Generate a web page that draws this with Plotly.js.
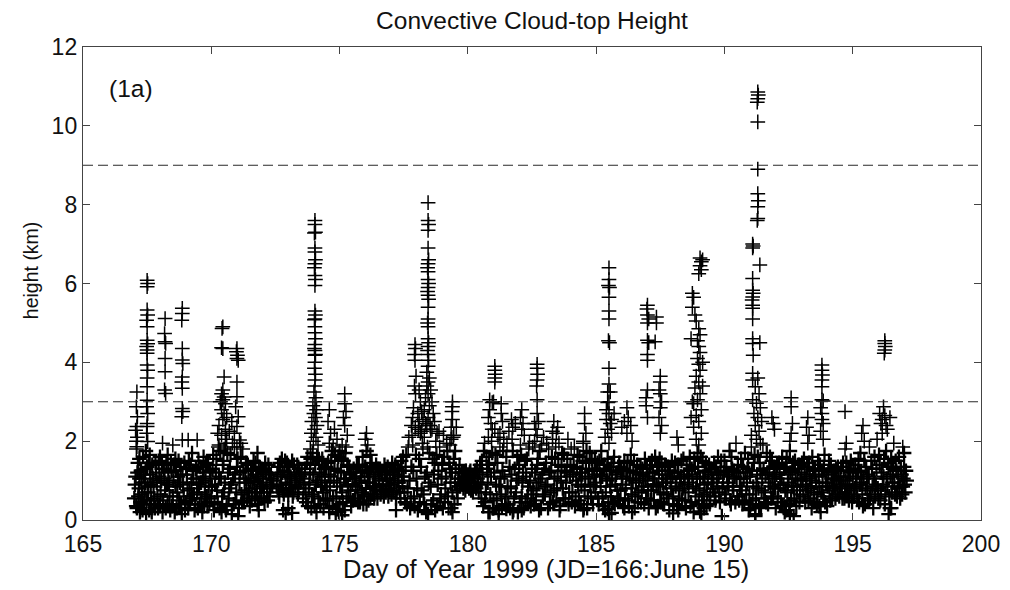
<!DOCTYPE html>
<html>
<head>
<meta charset="utf-8">
<script src="https://cdn.plot.ly/plotly-3.0.1.min.js"></script>
<style>
  html, body { margin: 0; padding: 0; background: #ffffff; }
  #chart { width: 1010px; height: 590px; }
</style>
</head>
<body>
<div id="chart"></div>
<script>
// Convective cloud-top heights, [day of year 1999, height in km]
const obs167to170 = [
  [167.00,0.55],[167.05,1.10],[167.10,0.30],[167.14,1.45],[167.18,0.80],[167.22,0.20],[167.26,1.25],[167.30,0.65],
  [167.34,1.60],[167.38,0.40],[167.42,0.95],[167.46,0.15],[167.50,1.35],[167.54,0.70],[167.58,0.25],[167.62,1.15],
  [167.66,0.50],[167.70,1.40],[167.75,0.85],[167.80,0.30],[167.85,1.20],[167.90,0.60],[167.95,1.50],[168.00,0.35],
  [168.05,1.00],[168.10,0.20],[168.15,1.30],[168.20,0.75],[168.25,1.45],[168.30,0.40],[168.35,0.95],[168.40,0.25],
  [168.45,1.25],[168.50,0.60],[168.55,1.40],[168.60,0.85],[168.65,0.30],[168.70,1.10],[168.75,0.50],[168.80,1.35],
  [168.85,0.15],[168.90,0.90],[168.95,1.45],[169.00,0.45],[169.05,1.15],[169.10,0.30],[169.15,0.80],[169.20,1.40],
  [169.25,0.55],[169.30,1.05],[169.35,0.25],[169.40,1.30],[169.45,0.70],[169.50,1.50],[169.55,0.40],[169.60,0.95],
  [169.65,0.20],[169.70,1.20],[169.75,0.65],[169.80,1.45],[169.85,0.35],[169.90,0.85],[169.95,1.25],
  [167.08,1.80],[167.20,1.55],[167.45,1.75],[167.60,1.65],[168.00,1.60],[168.30,1.65],[168.60,1.55],[168.50,1.90],
  [168.10,1.95],[169.10,2.03],[169.45,2.03],[169.70,1.60],[169.25,1.70],
  // towers on days 167-169
  [167.10,3.25],[167.08,2.87],[167.12,2.62],[167.10,2.37],[167.05,2.28],[167.12,2.10],[167.08,2.00],[167.10,1.86],
  [167.50,6.08],[167.52,6.00],[167.50,5.92],[167.50,5.33],[167.52,5.20],[167.48,5.07],[167.50,4.90],[167.50,4.56],
  [167.52,4.47],[167.48,4.40],[167.50,4.31],[167.50,4.23],[167.50,3.93],[167.52,3.80],[167.50,3.60],[167.50,3.38],
  [167.50,3.04],[167.48,2.87],[167.52,2.70],[167.50,2.45],[167.50,2.37],[167.48,2.20],[167.52,1.99],
  [168.20,5.11],[168.18,4.73],[168.20,4.52],[168.22,4.48],[168.20,4.10],[168.20,3.76],[168.18,3.30],[168.22,3.21],
  [168.87,5.37],[168.87,5.24],[168.85,5.07],[168.87,4.35],[168.87,4.06],[168.89,3.97],[168.87,3.63],[168.85,3.50],
  [168.87,3.34],[168.87,2.83],[168.89,2.75],[168.85,2.62],[168.87,2.03]
];

const obs170to174 = [
  [170.00,0.55],[170.05,1.30],[170.10,0.25],[170.15,0.90],[170.20,1.55],[170.25,0.40],[170.30,1.10],[170.35,1.75],
  [170.40,0.20],[170.45,1.40],[170.50,0.70],[170.55,1.95],[170.60,0.35],[170.65,1.20],[170.70,0.80],[170.75,1.65],
  [170.80,0.15],[170.85,1.05],[170.90,1.85],[170.95,0.50],[171.00,1.35],[171.05,0.10],[171.10,0.95],[171.15,1.60],
  [171.20,0.45],[171.25,1.25],[171.30,0.75],[171.35,1.45],[171.40,0.55],[171.45,1.05],[171.50,0.35],[171.55,1.30],
  [171.60,0.80],[171.65,1.50],[171.70,0.60],[171.75,1.15],[171.80,0.40],[171.85,1.35],[171.90,0.90],[171.95,0.55],
  [172.00,1.25],[172.05,0.70],[172.10,1.45],[172.15,0.95],[172.20,0.50],[172.25,1.20],[172.30,0.80],[172.35,1.05],
  [172.55,0.85],[172.60,1.35],[172.65,0.60],[172.70,1.10],[172.75,1.55],[172.80,0.75],[172.85,1.25],[172.90,0.95],
  [172.95,1.45],[173.00,0.65],[173.05,1.15],[173.10,0.90],[173.15,1.50],[173.20,0.70],[173.25,1.20],[173.30,1.00],
  [173.35,1.40],[173.40,0.80],[173.45,1.10],
  [172.80,0.25],[173.00,0.30],[173.15,0.18],[172.90,0.15],[171.80,1.70],[171.85,0.25],
  // towers on days 170-171
  [170.45,4.90],[170.42,4.86],[170.45,4.35],[170.40,4.37],[170.50,3.63],[170.45,3.30],[170.40,3.20],[170.50,3.12],
  [170.45,3.05],[170.35,3.00],[170.55,2.95],[170.40,2.80],[170.50,2.70],[170.45,2.55],[170.30,2.40],[170.55,2.30],
  [170.40,2.15],[170.60,2.05],[170.30,1.90],[170.50,1.80],[170.25,2.20],[170.60,2.60],
  [171.00,4.35],[170.98,4.27],[171.02,4.18],[171.00,4.10],[171.05,4.05],[171.00,3.50],[171.00,3.13],[170.95,2.87],
  [171.05,2.62],[171.00,2.37],[170.90,2.20],[171.10,2.03],[171.00,1.85],[171.15,1.95],[170.80,2.50],[170.70,2.25]
];

const obs174to178 = [
  [173.60,0.90],[173.65,1.30],[173.70,0.45],[173.75,1.60],[173.80,0.80],[173.85,1.20],[173.90,0.30],[173.95,1.70],
  [174.00,0.60],[174.05,1.40],[174.10,0.20],[174.15,1.00],[174.20,1.50],[174.25,0.40],[174.30,1.10],[174.35,0.70],
  [174.40,1.30],[174.45,0.50],
  // tower on day 174
  [174.04,7.60],[174.04,7.50],[174.06,7.30],[174.02,7.28],[174.04,6.90],[174.04,6.80],[174.06,6.60],[174.04,6.50],
  [174.02,6.40],[174.04,6.20],[174.06,6.10],[174.04,5.95],[174.04,5.30],[174.06,5.20],[174.04,5.10],[174.02,5.08],
  [174.04,4.90],[174.04,4.75],[174.06,4.60],[174.04,4.45],[174.02,4.35],[174.04,4.30],[174.06,4.20],[174.04,4.18],
  [174.04,4.00],[174.02,3.85],[174.06,3.70],[174.04,3.55],[174.04,3.40],[174.00,3.25],[174.08,3.10],[174.04,3.00],
  [173.96,2.90],[174.10,2.80],[174.00,2.70],[174.06,2.60],[173.92,2.50],[174.12,2.40],[174.02,2.30],[173.90,2.20],
  [174.08,2.10],[173.98,2.00],[174.16,1.90],[173.86,1.80],
  [174.50,0.85],[174.55,1.45],[174.60,0.30],[174.65,1.10],[174.70,1.75],[174.75,0.55],[174.80,1.30],[174.85,0.15],
  [174.90,0.95],[174.95,1.60],[175.00,0.40],[175.05,1.20],[175.10,0.70],[175.15,1.50],[175.20,0.25],[175.25,1.05],
  [175.30,1.40],[175.35,0.60],[175.40,1.15],[175.45,0.35],[175.50,0.90],[175.55,1.30],[175.60,0.55],[175.65,1.10],
  [175.70,0.75],[175.75,1.40],[175.80,0.45],[175.85,1.00],[175.90,1.25],[175.95,0.65],[176.00,1.35],[176.05,0.40],
  [176.10,0.95],[176.15,1.20],[176.20,0.60],[176.25,1.45],[176.30,0.85],[176.35,0.55],[176.40,1.10],[176.45,0.75],
  [176.50,1.30],[176.55,0.90],[176.60,0.65],[176.65,1.20],[176.70,0.85],[176.75,1.40],[176.80,0.70],[176.85,1.05],
  [176.90,0.60],[176.95,1.25],[177.00,0.90],[177.05,1.45],[177.10,0.75],[177.15,1.15],[177.20,0.55],[177.25,1.30],
  [177.30,0.95],[177.35,0.70],[177.40,1.50],[177.45,0.85],
  [174.60,2.80],[174.55,2.50],[174.65,2.20],[174.60,1.95],[175.20,3.20],[175.20,2.95],[175.25,2.75],[175.15,2.60],
  [175.20,2.40],[175.30,2.15],[175.10,1.90],[175.25,1.85],[174.80,2.30],[174.90,2.05],[174.75,1.85],[175.00,1.75],
  [174.60,0.20],[174.90,0.28],[175.10,0.12],
  [176.05,2.20],[176.00,2.05],[176.10,1.90],[176.05,1.75],[175.90,1.60],[176.20,1.65],[177.20,0.25]
];

const obs178to180 = [
  [177.50,1.10],[177.55,0.45],[177.60,1.65],[177.65,0.80],[177.70,2.10],[177.75,0.30],[177.80,1.35],[177.85,1.90],
  [177.90,0.60],[177.95,2.35],[178.00,1.05],[178.05,0.25],[178.10,1.55],[178.15,2.20],[178.20,0.75],[178.25,1.80],
  [178.30,0.40],[178.35,2.45],[178.40,1.20],[178.45,0.15],[178.50,1.70],[178.55,0.85],[178.60,2.30],[178.65,0.50],
  [178.70,1.45],[178.75,2.00],[178.80,0.35],[178.85,1.25],[178.90,1.85],[178.95,0.65],[179.00,1.40],[179.05,2.15],
  [179.10,0.45],[179.15,1.10],[179.20,1.75],[179.25,0.30],[179.30,1.30],[179.35,2.05],[179.40,0.70],[179.45,1.55],
  [179.50,0.95],[179.55,2.35],[179.60,0.55],[179.65,1.20],[179.70,0.85],[179.75,1.05],[179.80,0.90],[179.85,1.20],
  [179.90,0.75],[179.95,1.00],[180.00,1.15],[180.05,0.80],[180.10,1.25],[180.15,0.95],[180.20,0.70],[180.25,1.10],
  [180.30,0.85],[180.35,1.30],[180.40,0.95],[180.45,1.20],
  // towers on days 178-179
  [177.94,4.45],[177.96,4.35],[177.92,4.20],[177.94,4.05],[177.98,3.65],[177.92,3.40],[177.96,3.20],[178.10,3.30],
  [178.15,3.00],[178.20,2.75],[177.88,2.85],[178.05,2.70],[177.85,2.60],[178.10,2.50],[177.80,2.40],[178.20,2.25],
  [178.45,8.05],[178.45,7.60],[178.47,7.50],[178.45,7.35],[178.45,6.90],[178.47,6.60],[178.45,6.50],[178.43,6.40],
  [178.45,6.30],[178.45,6.10],[178.47,6.00],[178.45,5.90],[178.43,5.80],[178.45,5.70],[178.47,5.60],[178.45,5.40],
  [178.45,5.10],[178.43,5.00],[178.45,4.90],[178.45,4.60],[178.47,4.50],[178.45,4.40],[178.43,4.30],[178.45,4.20],
  [178.47,4.05],[178.45,3.90],[178.40,3.75],[178.50,3.60],[178.45,3.50],[178.40,3.40],[178.55,3.30],[178.45,3.20],
  [178.35,3.10],[178.60,3.00],[178.50,2.90],[178.30,2.80],[178.65,2.70],[178.45,2.60],[178.25,2.55],[178.70,2.50],
  [178.40,2.40],[178.55,2.30],[178.80,2.20],[178.30,2.10],
  [179.40,3.00],[179.40,2.87],[179.38,2.75],[179.40,2.55],[179.35,2.35],[179.45,2.15],[179.30,1.90],[179.50,1.75],
  [179.35,0.30],[179.40,0.20]
];

const obs181to185 = [
  [180.50,0.90],[180.55,1.50],[180.60,0.35],[180.65,1.95],[180.70,0.70],[180.75,1.30],[180.80,2.10],[180.85,0.20],
  [180.90,1.10],[180.95,1.70],[181.00,0.50],[181.05,2.30],[181.10,0.90],[181.15,1.45],[181.20,0.25],[181.25,1.85],
  [181.30,0.65],[181.35,1.25],[181.40,2.05],[181.45,0.40],[181.50,1.60],[181.55,0.85],[181.60,2.25],[181.65,0.30],
  [181.70,1.15],[181.75,1.75],[181.80,0.55],[181.85,2.45],[181.90,1.00],[181.95,0.20],[182.00,1.40],[182.05,1.90],
  [182.10,0.60],[182.15,1.20],[182.20,2.15],[182.25,0.45],[182.30,1.55],[182.35,0.85],[182.40,1.95],[182.45,0.35],
  [182.50,1.30],[182.55,0.75],[182.60,2.00],[182.65,0.50],[182.70,1.40],[182.75,0.95],[182.80,1.75],[182.85,0.30],
  [182.90,1.15],[182.95,2.10],[183.00,0.65],[183.05,1.45],[183.10,0.90],[183.15,1.80],[183.20,0.40],[183.25,1.25],
  [183.30,2.25],[183.35,0.75],[183.40,1.55],[183.45,0.50],[183.50,1.10],[183.55,1.95],[183.60,0.35],[183.65,1.35],
  [183.70,0.80],[183.75,1.65],[183.80,0.55],[183.85,1.20],[183.90,2.05],[183.95,0.70],[184.00,1.40],[184.05,0.45],
  [184.10,1.15],[184.15,1.85],[184.20,0.60],[184.25,1.30],[184.30,0.90],[184.35,1.60],[184.40,0.40],[184.45,1.20],
  [184.50,2.00],[184.55,0.75],[184.60,1.45],[184.65,0.30],[184.70,1.05],[184.75,1.70],[184.80,0.55],[184.85,1.25],
  [184.90,0.85],[184.95,1.50],
  // towers on days 181-184
  [181.05,3.90],[181.05,3.80],[181.07,3.70],[181.05,3.60],[181.05,3.50],[180.85,3.05],[181.00,3.00],[180.95,2.98],
  [180.85,2.80],[180.80,2.60],[180.90,2.45],[180.95,2.30],[181.30,2.95],[181.30,2.70],[181.35,2.50],[181.25,2.20],
  [181.70,2.55],[181.75,2.35],[182.10,2.80],[182.05,2.60],[182.15,2.45],[182.10,2.30],
  [182.70,3.95],[182.70,3.85],[182.72,3.70],[182.70,3.55],[182.68,3.40],[182.70,3.05],[182.70,2.70],[182.75,2.50],
  [182.65,2.30],[182.70,2.15],[182.60,2.45],
  [183.35,2.50],[183.50,2.35],[183.45,2.20],[183.30,2.05],[184.55,2.70],[184.55,2.45],[184.60,2.20],[184.50,1.95],
  [184.50,0.25],[180.80,0.20],[181.00,0.30],[181.20,0.15],[181.50,0.28],[181.75,0.20],[182.10,0.25]
];

const obs185to190 = [
  [185.00,0.95],[185.05,1.45],[185.10,0.40],[185.15,1.15],[185.20,1.75],[185.25,0.60],[185.30,1.30],[185.35,0.25],
  [185.40,1.05],[185.45,1.55],[185.50,0.15],[185.55,0.85],[185.60,1.35],[185.65,0.45],[185.70,1.60],[185.75,0.90],
  [185.80,1.20],[185.85,0.55],[185.90,1.45],[185.95,0.75],[186.00,1.10],[186.05,0.35],[186.10,1.50],[186.15,0.80],
  [186.20,1.25],[186.25,0.50],[186.30,1.05],[186.35,1.65],[186.40,0.65],[186.45,1.20],[186.50,0.30],[186.55,0.95],
  [186.60,1.40],[186.65,0.70],[186.70,1.15],[186.75,0.45],[186.80,1.30],[186.85,0.85],[186.90,1.55],[186.95,0.55],
  [187.00,1.10],[187.05,0.30],[187.10,1.40],[187.15,0.75],[187.20,1.20],[187.25,0.50],[187.30,1.60],[187.35,0.90],
  [187.40,0.35],[187.45,1.25],[187.50,0.70],[187.55,1.45],[187.60,0.95],[187.65,0.40],[187.70,1.15],[187.75,0.65],
  [187.80,1.35],[187.85,0.25],[187.90,1.05],[187.95,1.50],[188.00,0.60],[188.05,1.20],[188.10,0.85],[188.15,0.35],
  [188.20,1.40],[188.25,0.75],[188.30,1.10],[188.35,0.50],[188.40,1.55],[188.45,0.90],[188.50,0.30],[188.55,1.25],
  [188.60,0.70],[188.65,1.60],[188.70,0.45],[188.75,1.15],[188.80,0.20],[188.85,1.35],[188.90,0.80],[188.95,1.70],
  [189.00,0.40],[189.05,1.05],[189.10,0.15],[189.15,1.50],[189.20,0.65],[189.25,1.25],[189.30,0.35],[189.35,0.95],
  [189.40,1.40],[189.45,0.60],[189.50,1.15],[189.55,0.80],[189.60,1.45],[189.65,0.50],[189.70,1.05],[189.75,1.60],
  [189.80,0.70],[189.85,1.25],[189.90,0.10],[189.95,0.95],[190.00,1.50],[190.05,0.55],[190.10,1.15],[190.15,0.85],
  [190.20,1.75],[190.25,0.40],[190.30,1.30],[190.35,0.75],[190.40,1.10],[190.45,1.95],
  [185.45,0.28],[185.60,0.18],[186.10,0.30],[186.40,0.20],[188.00,0.17],[188.20,0.25],[189.05,0.22],[189.20,0.30],
  // towers on days 185-189
  [185.50,6.40],[185.50,6.10],[185.48,5.95],[185.52,5.90],[185.50,5.65],[185.50,5.30],[185.50,5.10],[185.48,4.55],
  [185.52,4.50],[185.50,3.85],[185.50,3.45],[185.45,3.25],[185.55,3.25],[185.50,3.00],[185.45,2.98],[185.50,2.70],
  [185.40,2.55],[185.55,2.45],[185.45,2.30],[185.60,2.20],[185.35,2.10],[185.50,1.95],[185.40,2.80],[185.70,2.70],
  [185.60,2.55],[186.20,2.85],[186.25,2.60],[186.10,2.50],[186.35,2.40],[186.00,2.35],[186.20,2.20],[186.40,2.00],
  [187.00,5.45],[186.98,5.35],[187.00,5.20],[187.05,5.10],[187.00,5.00],[187.35,5.15],[187.35,5.00],[187.00,4.56],
  [187.05,4.50],[187.00,4.20],[187.00,4.05],[187.30,4.52],[187.00,3.30],[186.95,3.10],[186.95,2.90],[187.00,2.60],
  [187.50,3.65],[187.50,3.50],[187.45,3.30],[187.50,3.20],[187.55,3.00],[187.50,2.85],[187.45,2.60],[187.55,2.40],
  [187.50,2.20],[188.15,2.10],[188.20,1.90],
  [189.05,6.65],[189.10,6.55],[189.05,6.45],[189.10,6.35],[189.15,6.60],[189.00,6.25],[188.75,5.75],[188.80,5.65],
  [188.75,5.40],[188.85,5.20],[188.90,5.05],[189.00,4.85],[189.05,4.70],[188.95,4.55],[189.00,4.40],[189.05,4.25],
  [188.95,4.10],[189.00,3.95],[189.05,3.80],[188.90,3.65],[189.00,3.50],[188.85,3.35],[189.05,3.20],[188.95,3.05],
  [188.80,2.95],[189.10,2.80],[188.90,2.65],[189.00,2.50],[188.80,2.35],[189.10,2.20],[188.90,2.05],[189.00,1.90],
  [188.70,2.60],[188.75,3.00],[188.70,4.60],[189.15,4.00],[189.15,3.40]
];

const obs191to194 = [
  [190.50,0.60],[190.55,1.20],[190.60,0.85],[190.65,1.55],[190.70,0.40],[190.75,1.05],[190.80,1.70],[190.85,0.65],
  [190.90,1.30],[190.95,0.25],[191.00,1.10],[191.05,1.85],[191.10,0.50],[191.15,1.45],[191.20,0.15],[191.25,0.95],
  [191.30,1.60],[191.35,0.35],[191.40,1.25],[191.45,0.75],[191.50,1.90],[191.55,0.55],[191.60,1.15],[191.65,1.70],
  [191.70,0.40],[191.75,1.30],[191.80,0.85],[191.85,1.50],[191.90,0.60],[191.95,1.10],[192.00,0.30],[192.05,1.40],
  [192.10,0.80],[192.15,1.20],[192.20,0.45],[192.25,1.60],[192.30,0.90],[192.35,0.20],[192.40,1.35],[192.45,0.70],
  [192.50,1.15],[192.55,1.75],[192.60,0.50],[192.65,1.25],[192.70,0.85],[192.75,1.50],[192.80,0.35],[192.85,1.05],
  [192.90,1.40],[192.95,0.65],[193.00,1.20],[193.05,0.90],[193.10,1.55],[193.15,0.45],[193.20,1.10],[193.25,0.75],
  [193.30,1.45],[193.35,0.55],[193.40,1.00],[193.45,1.30],[193.50,0.70],[193.55,1.15],[193.60,0.40],[193.65,1.50],
  [193.70,0.85],[193.75,0.20],[193.80,1.25],[193.85,0.60],[193.90,1.65],[193.95,0.95],[194.00,0.35],[194.05,1.20],
  [194.10,0.75],[194.15,1.40],[194.20,0.55],[194.25,1.05],[194.30,0.85],[194.35,1.30],[194.40,0.65],[194.45,1.10],
  [191.00,0.30],[191.20,0.10],[192.40,0.25],[192.70,0.10],[192.55,0.15],[193.40,0.30],[193.70,0.35],
  // towers on days 191-194
  [191.30,10.86],[191.32,10.78],[191.30,10.69],[191.28,10.60],[191.30,10.10],[191.30,8.90],[191.30,8.28],[191.32,8.10],
  [191.30,7.95],[191.30,7.65],[191.28,7.60],[191.10,7.00],[191.12,6.95],[191.10,6.90],[191.38,6.47],[191.10,6.13],
  [191.10,5.83],[191.12,5.75],[191.10,5.66],[191.08,5.58],[191.10,5.45],[191.10,5.37],[191.10,5.10],[191.10,4.60],
  [191.38,4.50],[191.10,4.48],[191.12,4.18],[191.10,3.72],[191.30,3.60],[191.10,3.55],[191.20,3.38],[191.35,3.20],
  [191.10,3.05],[191.25,2.96],[191.40,2.85],[191.15,2.70],[191.30,2.60],[191.45,2.50],[191.20,2.40],[191.35,2.25],
  [191.05,2.15],[191.25,2.05],[191.40,1.95],
  [191.85,2.60],[191.90,2.45],[191.95,2.30],[192.60,3.10],[192.60,2.87],[192.65,2.45],[192.60,2.20],[192.55,2.00],
  [193.25,2.60],[193.20,2.35],[193.30,2.15],[193.25,1.95],
  [193.80,3.93],[193.80,3.80],[193.82,3.68],[193.80,3.55],[193.80,3.38],[193.80,3.05],[193.85,3.02],[193.75,2.85],
  [193.80,2.70],[193.80,2.55],[193.85,2.45],[193.75,2.25],[193.85,2.05],[194.70,2.75],[194.75,1.95],[194.70,1.80]
];

const obs195to197 = [
  [194.50,0.80],[194.55,1.35],[194.60,0.55],[194.65,1.10],[194.70,0.70],[194.75,1.45],[194.80,0.90],[194.85,0.50],
  [194.90,1.20],[194.95,0.75],[195.00,1.05],[195.05,0.60],[195.10,1.40],[195.15,0.85],[195.20,1.25],[195.25,0.45],
  [195.30,1.70],[195.35,0.95],[195.40,0.35],[195.45,1.50],[195.50,0.80],[195.55,1.15],[195.60,0.50],[195.65,1.85],
  [195.70,0.65],[195.75,1.30],[195.80,0.30],[195.85,1.60],[195.90,0.90],[195.95,2.05],[196.00,0.55],[196.05,1.40],
  [196.10,0.75],[196.15,2.20],[196.20,1.10],[196.25,0.40],[196.30,1.75],[196.35,0.85],[196.40,1.35],[196.45,0.30],
  [196.50,1.55],[196.55,0.95],[196.60,1.95],[196.65,0.65],[196.70,1.25],[196.75,0.80],[196.80,1.60],[196.85,0.55],
  [196.90,1.15],[196.95,0.85],[197.00,1.35],[197.05,0.70],[197.10,1.00],
  // towers on days 195-196
  [196.25,4.55],[196.25,4.48],[196.27,4.40],[196.25,4.31],[196.23,4.23],
  [196.20,2.87],[196.25,2.65],[196.10,2.45],[196.35,2.30],[196.45,2.60],[196.05,2.70],[196.15,2.55],[196.30,2.40],
  [195.40,2.40],[195.35,2.20],[195.45,2.00],[196.95,1.85],[197.00,1.70],[196.50,0.30],[196.40,0.15]
];

// shallow cloud tops in between the samples above
const band167to174 = [
  [167.025,0.90],[167.075,0.35],[167.125,1.20],[167.16,0.60],[167.20,1.05],[167.24,0.45],[167.28,0.95],[167.32,0.25],
  [167.36,1.15],[167.40,0.70],[167.44,1.30],[167.48,0.50],[167.52,0.85],[167.56,1.45],[167.60,0.40],[167.64,0.90],
  [167.68,0.20],[167.725,1.05],[167.775,0.55],[167.825,1.45],[167.875,0.95],[167.925,0.30],[167.975,1.10],
  [168.025,0.65],[168.075,1.40],[168.125,0.50],[168.175,1.05],[168.225,0.30],[168.275,0.90],[168.325,1.20],[168.375,0.60],
  [168.425,1.45],[168.475,0.35],[168.525,1.00],[168.575,0.20],[168.625,1.25],[168.675,0.70],[168.725,1.50],[168.775,0.95],
  [168.825,0.40],[168.875,1.15],[168.925,0.60],[168.975,0.25],
  [169.025,1.30],[169.075,0.75],[169.125,1.50],[169.175,0.50],[169.225,0.95],[169.275,1.25],[169.325,0.65],[169.375,0.40],
  [169.425,1.05],[169.475,0.30],[169.525,0.90],[169.575,1.35],[169.625,0.55],[169.675,1.10],[169.725,0.35],[169.775,1.00],
  [169.825,0.60],[169.875,1.40],[169.925,0.45],[169.975,1.05],
  [170.025,0.85],[170.075,1.65],[170.125,0.45],[170.175,1.20],[170.225,0.75],[170.275,1.85],[170.325,0.30],[170.375,1.05],
  [170.425,0.60],[170.475,1.50],[170.525,0.95],[170.575,0.25],[170.625,1.70],[170.675,0.55],[170.725,1.30],[170.775,0.90],
  [170.825,1.95],[170.875,0.40],[170.925,1.15],[170.975,0.70],
  [171.025,1.55],[171.075,0.30],[171.125,1.20],[171.175,0.65],[171.225,1.80],[171.275,0.45],[171.325,1.05],[171.375,0.95],
  [171.425,1.40],[171.475,0.70],[171.525,1.00],[171.575,0.50],[171.625,1.25],[171.675,0.95],[171.725,1.45],[171.775,0.70],
  [171.825,1.10],[171.875,0.55],[171.925,1.30],[171.975,0.85],
  [172.025,1.05],[172.075,0.45],[172.125,1.20],[172.175,0.70],[172.225,1.40],[172.275,0.60],[172.325,1.15],[172.375,0.90],
  [172.425,1.00],[172.575,1.15],[172.625,0.70],[172.675,1.45],[172.725,0.90],[172.775,1.20],[172.825,0.65],[172.875,1.50],
  [172.925,0.80],[172.975,1.10],
  [173.025,1.35],[173.075,0.80],[173.125,1.05],[173.175,0.60],[173.225,1.40],[173.275,0.85],[173.325,1.15],[173.375,0.65],
  [173.425,1.30],[173.475,0.95],[173.525,1.20],[173.575,0.55],[173.625,1.05],[173.675,0.70],[173.725,1.45],[173.775,0.35],
  [173.825,0.95],[173.875,1.55],[173.925,0.65],[173.975,1.15]
];

const band174to180 = [
  [174.025,0.35],[174.075,0.90],[174.125,1.60],[174.175,0.55],[174.225,1.20],[174.275,0.85],[174.325,1.55],[174.375,0.30],
  [174.425,0.95],[174.475,1.35],[174.525,0.50],[174.575,1.15],[174.625,0.75],[174.675,1.50],[174.725,0.35],[174.775,1.00],
  [174.825,1.65],[174.875,0.60],[174.925,1.25],[174.975,0.20],
  [175.025,0.85],[175.075,1.55],[175.125,0.45],[175.175,1.05],[175.225,1.70],[175.275,0.55],[175.325,0.90],[175.375,1.35],
  [175.425,0.75],[175.475,1.20],[175.525,0.50],[175.575,1.05],[175.625,0.85],[175.675,1.40],[175.725,0.45],[175.775,0.95],
  [175.825,1.20],[175.875,0.70],[175.925,0.40],[175.975,1.10],
  [176.025,0.80],[176.075,1.25],[176.125,0.50],[176.175,0.95],[176.225,1.35],[176.275,0.65],[176.325,1.15],[176.375,0.85],
  [176.425,1.40],[176.475,0.55],[176.525,1.05],[176.575,1.30],[176.625,0.75],[176.675,1.00],[176.725,0.60],[176.775,1.15],
  [176.825,0.90],[176.875,1.35],[176.925,0.80],[176.975,1.05],
  [177.025,0.65],[177.075,1.20],[177.125,0.95],[177.175,1.40],[177.225,0.70],[177.275,1.00],[177.325,1.25],[177.375,0.55],
  [177.425,1.10],[177.475,1.60],
  [177.525,0.70],[177.575,1.35],[177.625,0.40],[177.675,1.85],[177.725,1.00],[177.775,0.55],[177.825,2.15],[177.875,1.25],
  [177.925,0.35],[177.975,1.65],
  [178.025,0.80],[178.075,2.30],[178.125,0.45],[178.175,1.35],[178.225,1.95],[178.275,0.65],[178.325,1.10],[178.375,0.20],
  [178.425,1.85],[178.475,0.95],[178.525,2.40],[178.575,0.40],[178.625,1.55],[178.675,1.15],[178.725,0.25],[178.775,1.65],
  [178.825,0.90],[178.875,2.25],[178.925,0.55],[178.975,1.05],
  [179.025,0.30],[179.075,1.60],[179.125,0.80],[179.175,1.95],[179.225,0.60],[179.275,1.45],[179.325,0.95],[179.375,1.20],
  [179.425,2.10],[179.475,0.40],[179.525,1.30],[179.575,0.75],[179.625,1.05],[179.675,1.40],[179.725,0.95],[179.775,1.20],
  [179.825,0.80],[179.875,1.05],[179.925,1.25],[179.975,0.85],[180.025,1.00],[180.075,1.20],[180.125,0.75],[180.175,1.10],
  [180.225,0.95],[180.275,1.25],[180.325,0.80],[180.375,1.05],[180.425,0.70],[180.475,1.40]
];

const band180to185 = [
  [180.525,0.55],[180.575,1.15],[180.625,1.75],[180.675,0.45],[180.725,1.60],[180.775,0.95],[180.825,1.40],[180.875,0.65],
  [180.925,2.00],[180.975,0.30],
  [181.025,1.20],[181.075,1.65],[181.125,0.55],[181.175,2.10],[181.225,0.85],[181.275,1.05],[181.325,0.35],[181.375,1.75],
  [181.425,1.10],[181.475,0.60],[181.525,1.95],[181.575,0.40],[181.625,1.35],[181.675,0.80],[181.725,2.05],[181.775,0.25],
  [181.825,1.30],[181.875,0.70],[181.925,1.60],[181.975,1.05],
  [182.025,0.45],[182.075,1.65],[182.125,0.95],[182.175,0.30],[182.225,1.50],[182.275,1.10],[182.325,0.55],[182.375,1.80],
  [182.425,1.00],[182.475,0.65],[182.525,1.85],[182.575,0.40],[182.625,1.20],[182.675,0.80],[182.725,1.55],[182.775,0.25],
  [182.825,1.05],[182.875,1.90],[182.925,0.60],[182.975,1.30],
  [183.025,0.85],[183.075,1.95],[183.125,0.30],[183.175,1.20],[183.225,0.70],[183.275,1.60],[183.325,0.45],[183.375,1.05],
  [183.425,1.85],[183.475,0.80],[183.525,1.40],[183.575,0.25],[183.625,1.00],[183.675,1.70],[183.725,0.55],[183.775,1.25],
  [183.825,0.95],[183.875,1.55],[183.925,0.40],[183.975,1.10],
  [184.025,1.80],[184.075,0.70],[184.125,1.35],[184.175,0.35],[184.225,1.00],[184.275,1.65],[184.325,0.50],[184.375,1.20],
  [184.425,0.85],[184.475,1.50],[184.525,0.30],[184.575,1.10],[184.625,1.75],[184.675,0.60],[184.725,1.30],[184.775,0.90],
  [184.825,1.55],[184.875,0.40],[184.925,1.15],[184.975,0.70]
];

const band185to190 = [
  [185.025,1.25],[185.075,0.55],[185.125,1.50],[185.175,0.85],[185.225,1.10],[185.275,0.35],[185.325,1.40],[185.375,0.70],
  [185.425,1.00],[185.475,0.45],[185.525,1.25],[185.575,0.60],[185.625,1.05],[185.675,1.45],[185.725,0.40],[185.775,1.15],
  [185.825,0.75],[185.875,1.35],[185.925,0.50],[185.975,1.25],
  [186.025,0.90],[186.075,1.30],[186.125,0.55],[186.175,1.05],[186.225,1.45],[186.275,0.35],[186.325,1.25],[186.375,0.80],
  [186.425,1.00],[186.475,1.50],[186.525,0.60],[186.575,1.20],[186.625,0.45],[186.675,1.05],[186.725,1.35],[186.775,0.75],
  [186.825,1.15],[186.875,0.40],[186.925,1.00],[186.975,1.30],
  [187.025,0.75],[187.075,1.20],[187.125,0.50],[187.175,1.50],[187.225,0.90],[187.275,1.05],[187.325,0.30],[187.375,1.35],
  [187.425,0.85],[187.475,1.55],[187.525,0.45],[187.575,1.15],[187.625,0.65],[187.675,1.40],[187.725,0.95],[187.775,1.05],
  [187.825,0.55],[187.875,1.25],[187.925,0.80],[187.975,1.10],
  [188.025,0.40],[188.075,1.45],[188.125,0.95],[188.175,1.20],[188.225,0.55],[188.275,1.05],[188.325,1.50],[188.375,0.80],
  [188.425,1.15],[188.475,0.50],[188.525,1.40],[188.575,0.95],[188.625,1.10],[188.675,0.35],[188.725,1.30],[188.775,0.85],
  [188.825,1.55],[188.875,0.60],[188.925,1.05],[188.975,1.35],
  [189.025,0.75],[189.075,1.60],[189.125,0.50],[189.175,1.10],[189.225,0.90],[189.275,1.45],[189.325,0.70],[189.375,1.20],
  [189.425,0.40],[189.475,1.30],[189.525,0.95],[189.575,1.05],[189.625,0.60],[189.675,1.35],[189.725,0.85],[189.775,1.15],
  [189.825,0.45],[189.875,1.50],[189.925,0.80],[189.975,1.20],
  [190.025,0.65],[190.075,1.35],[190.125,0.95],[190.175,1.10],[190.225,0.50],[190.275,1.60],[190.325,0.85],[190.375,1.25],
  [190.425,0.45],[190.475,1.05]
];

const band190to197 = [
  [190.525,1.40],[190.575,0.50],[190.625,1.05],[190.675,0.75],[190.725,1.35],[190.775,0.45],[190.825,1.20],[190.875,0.95],
  [190.925,1.55],[190.975,0.65],
  [191.025,0.40],[191.075,1.25],[191.125,0.85],[191.175,1.65],[191.225,0.55],[191.275,1.15],[191.325,0.80],[191.375,1.45],
  [191.425,0.30],[191.475,1.05],[191.525,1.30],[191.575,0.70],[191.625,0.45],[191.675,1.20],[191.725,0.95],[191.775,1.60],
  [191.825,0.55],[191.875,1.05],[191.925,1.35],[191.975,0.80],
  [192.025,1.15],[192.075,0.55],[192.125,1.45],[192.175,0.90],[192.225,1.05],[192.275,0.35],[192.325,1.30],[192.375,0.75],
  [192.425,1.55],[192.475,0.95],[192.525,0.40],[192.575,1.20],[192.625,0.85],[192.675,1.45],[192.725,0.55],[192.775,1.05],
  [192.825,0.75],[192.875,1.30],[192.925,0.45],[192.975,1.00],
  [193.025,1.45],[193.075,0.60],[193.125,1.15],[193.175,0.85],[193.225,1.35],[193.275,0.50],[193.325,1.05],[193.375,0.80],
  [193.425,1.60],[193.475,0.45],[193.525,1.25],[193.575,0.95],[193.625,0.65],[193.675,1.10],[193.725,1.40],[193.775,0.70],
  [193.825,0.95],[193.875,1.30],[193.925,0.45],[193.975,1.15],
  [194.025,0.85],[194.075,1.50],[194.125,0.50],[194.175,1.05],[194.225,0.80],[194.275,1.25],[194.325,0.55],[194.375,1.00],
  [194.425,1.35],[194.475,0.60],
  [194.525,1.10],[194.575,0.90],[194.625,1.45],[194.675,0.55],[194.725,1.00],[194.775,0.65],[194.825,1.25],[194.875,0.85],
  [194.925,1.50],[194.975,0.45],
  [195.025,1.30],[195.075,0.80],[195.125,1.10],[195.175,0.55],[195.225,1.55],[195.275,0.90],[195.325,1.20],[195.375,0.65],
  [195.425,1.05],[195.475,0.40],[195.525,1.35],[195.575,0.75],[195.625,1.10],[195.675,0.55],[195.725,1.50],[195.775,0.85],
  [195.825,1.05],[195.875,0.60],[195.925,1.30],[195.975,0.80],
  [196.025,1.65],[196.075,0.50],[196.125,1.20],[196.175,0.90],[196.225,1.55],[196.275,0.65],[196.325,1.05],[196.375,1.45],
  [196.425,0.60],[196.475,1.15],[196.525,0.70],[196.575,1.30],[196.625,0.95],[196.675,1.50],[196.725,0.60],[196.775,1.10],
  [196.825,0.85],[196.875,1.35],[196.925,0.65],[196.975,1.05],[197.025,0.90],[197.075,1.25]
];

const thresholdKm = [3, 9];
const xTicks = [165, 170, 175, 180, 185, 190, 195, 200];
const yTicks = [0, 2, 4, 6, 8, 10, 12];

const allObs = [].concat(
  obs167to170, obs170to174, obs174to178, obs178to180, obs181to185, obs185to190, obs191to194, obs195to197,
  band167to174, band174to180, band180to185, band185to190, band190to197
);

const xRange = [xTicks[0], xTicks[xTicks.length - 1]];
const yRange = [yTicks[0], yTicks[yTicks.length - 1]];
const FONT = 'Liberation Sans, Arial, Helvetica, sans-serif';

// the crowded shallow layer is stroked a little heavier than the isolated tall tops
const strokeFor = h => (h < 1.8 ? 2.3 : 1.5);

const traces = [{
  type: 'scatter',
  mode: 'markers',
  x: allObs.map(p => p[0]),
  y: allObs.map(p => p[1]),
  marker: {
    symbol: 'cross-thin',
    size: 10.5,
    color: '#000000',
    line: { color: '#000000', width: allObs.map(p => strokeFor(p[1])) }
  },
  hoverinfo: 'x+y',
  showlegend: false
}];

thresholdKm.forEach(h => {
  traces.push({
    type: 'scatter',
    mode: 'lines',
    x: xRange,
    y: [h, h],
    line: { color: '#2a2a2a', width: 1, dash: '10px,5px' },
    hoverinfo: 'skip',
    showlegend: false
  });
});

const axisCommon = {
  showgrid: false,
  zeroline: false,
  showline: true,
  linecolor: '#444444',
  linewidth: 1.2,
  mirror: 'ticks',
  ticks: 'inside',
  ticklen: 7,
  tickwidth: 1,
  tickcolor: '#444444',
  tickfont: { family: FONT, size: 23, color: '#111111' }
};

const layout = {
  width: 1010,
  height: 590,
  margin: { l: 83, r: 29, t: 47, b: 70 },
  paper_bgcolor: '#ffffff',
  plot_bgcolor: '#ffffff',
  title: {
    text: 'Convective Cloud-top Height',
    font: { family: FONT, size: 24.5, color: '#111111' },
    x: 0.5, xref: 'paper', xanchor: 'center',
    y: 0.966, yref: 'container', yanchor: 'middle'
  },
  xaxis: Object.assign({}, axisCommon, {
    range: xRange,
    tickvals: xTicks,
    ticktext: xTicks.map(String),
    ticklabelstandoff: 3
  }),
  yaxis: Object.assign({}, axisCommon, {
    range: yRange,
    tickvals: yTicks,
    ticktext: yTicks.map(String)
  }),
  annotations: [
    {
      // x-axis title, set just under the tick labels
      text: 'Day of Year 1999 (JD=166:June 15)',
      xref: 'paper', yref: 'paper',
      x: 0.5156, y: -0.103,
      xanchor: 'center', yanchor: 'middle',
      showarrow: false,
      font: { family: FONT, size: 25.5, color: '#111111' }
    },
    {
      // y-axis title
      text: 'height (km)',
      xref: 'paper', yref: 'paper',
      x: -0.058, y: 0.528,
      xanchor: 'center', yanchor: 'middle',
      textangle: -90,
      showarrow: false,
      font: { family: FONT, size: 19.5, color: '#111111' }
    },
    {
      text: '(1a)',
      xref: 'paper', yref: 'paper',
      x: 0.027, y: 0.913,
      xanchor: 'left', yanchor: 'middle',
      showarrow: false,
      font: { family: FONT, size: 24.5, color: '#111111' }
    }
  ]
};

Plotly.newPlot('chart', traces, layout, { displayModeBar: false, staticPlot: true });
</script>
</body>
</html>
